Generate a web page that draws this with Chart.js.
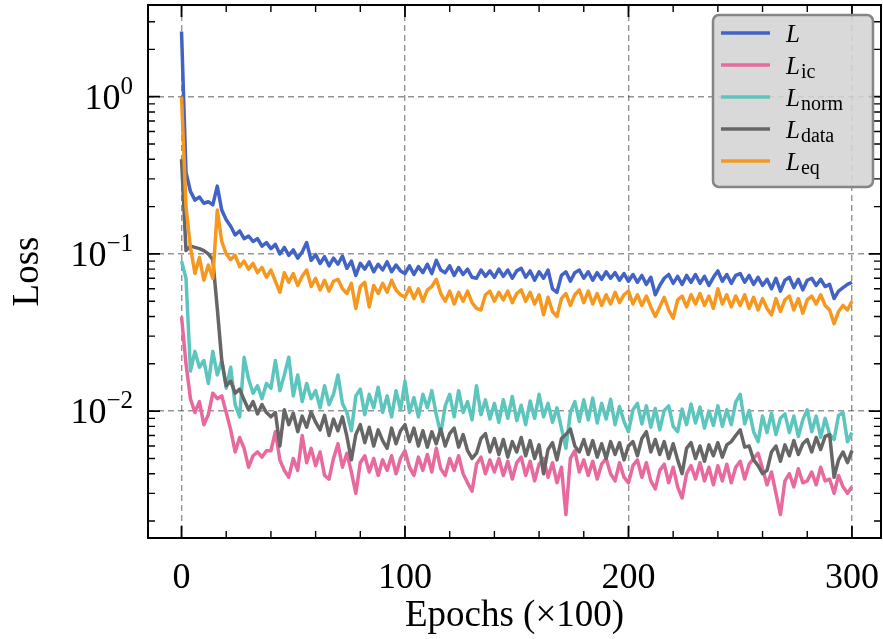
<!DOCTYPE html>
<html>
<head>
<meta charset="utf-8">
<script src="https://cdn.jsdelivr.net/npm/chart.js@4.4.1/dist/chart.umd.min.js"></script>
<style>
  html, body { margin: 0; padding: 0; background: #fff; }
  canvas { display: block; }
</style>
</head>
<body>
<canvas id="lossChart" width="883" height="639"></canvas>
<script>
// epochs (x100), one sample every 2
const epochs = [
  0, 2, 4, 6, 8, 10, 12, 14, 16, 18,
  20, 22, 24, 26, 28, 30, 32, 34, 36, 38,
  40, 42, 44, 46, 48, 50, 52, 54, 56, 58,
  60, 62, 64, 66, 68, 70, 72, 74, 76, 78,
  80, 82, 84, 86, 88, 90, 92, 94, 96, 98,
  100, 102, 104, 106, 108, 110, 112, 114, 116, 118,
  120, 122, 124, 126, 128, 130, 132, 134, 136, 138,
  140, 142, 144, 146, 148, 150, 152, 154, 156, 158,
  160, 162, 164, 166, 168, 170, 172, 174, 176, 178,
  180, 182, 184, 186, 188, 190, 192, 194, 196, 198,
  200, 202, 204, 206, 208, 210, 212, 214, 216, 218,
  220, 222, 224, 226, 228, 230, 232, 234, 236, 238,
  240, 242, 244, 246, 248, 250, 252, 254, 256, 258,
  260, 262, 264, 266, 268, 270, 272, 274, 276, 278,
  280, 282, 284, 286, 288, 290, 292, 294, 296, 298,
  300
];

const lossTotal = [
  2.6, 0.33, 0.25, 0.22, 0.23, 0.21, 0.215, 0.205, 0.27, 0.19,
  0.165, 0.15, 0.132, 0.14, 0.125, 0.13, 0.12, 0.125, 0.112, 0.118,
  0.108, 0.115, 0.1, 0.11, 0.098, 0.106, 0.094, 0.103, 0.118, 0.091,
  0.099, 0.087, 0.096, 0.084, 0.094, 0.086, 0.097, 0.081, 0.09, 0.073,
  0.087, 0.08, 0.089, 0.077, 0.086, 0.079, 0.089, 0.077, 0.085, 0.078,
  0.075, 0.084, 0.074, 0.083, 0.076, 0.086, 0.075, 0.091, 0.079, 0.076,
  0.084, 0.073, 0.082, 0.074, 0.08, 0.071, 0.07, 0.079, 0.072, 0.078,
  0.071, 0.08, 0.072, 0.079, 0.07, 0.078, 0.081, 0.071, 0.078, 0.068,
  0.077, 0.07, 0.079, 0.06, 0.057, 0.073, 0.077, 0.067, 0.076, 0.079,
  0.07, 0.077, 0.068, 0.076, 0.069, 0.077, 0.07, 0.076, 0.068, 0.075,
  0.067, 0.074, 0.066, 0.073, 0.064, 0.071, 0.055, 0.063, 0.07, 0.074,
  0.065, 0.072, 0.064, 0.073, 0.066, 0.074, 0.065, 0.072, 0.063, 0.071,
  0.078, 0.067, 0.074, 0.065, 0.073, 0.075, 0.066, 0.073, 0.064, 0.071,
  0.063, 0.069, 0.06, 0.07, 0.058, 0.068, 0.071, 0.061, 0.069, 0.059,
  0.068, 0.07, 0.063, 0.069, 0.062, 0.064, 0.052, 0.058, 0.061, 0.064,
  0.066
];

const lossIc = [
  0.04, 0.02, 0.012, 0.0098, 0.0115, 0.0082, 0.0095, 0.013, 0.012, 0.0125,
  0.0098, 0.0076, 0.0055, 0.0068, 0.0058, 0.0044, 0.0052, 0.0055, 0.0051, 0.0056,
  0.0056, 0.0074, 0.0049, 0.0042, 0.0038, 0.005, 0.0042, 0.007, 0.0047, 0.0058,
  0.0045, 0.0055, 0.0039, 0.0037, 0.005, 0.0062, 0.0044, 0.0054, 0.0041, 0.003,
  0.0047, 0.0052, 0.0041, 0.005, 0.0039, 0.0049, 0.0042, 0.0052, 0.004, 0.005,
  0.0056, 0.0044, 0.0039, 0.0051, 0.0042, 0.0053, 0.0041, 0.0058, 0.0043, 0.0039,
  0.005, 0.0042, 0.0052, 0.004, 0.0035, 0.0031, 0.0046, 0.0051, 0.004, 0.0049,
  0.0041, 0.005, 0.0039, 0.0048, 0.0037, 0.0047, 0.0051, 0.0039, 0.0048, 0.0036,
  0.0046, 0.005, 0.0038, 0.0047, 0.0035, 0.0044, 0.0022, 0.005, 0.0056, 0.0041,
  0.0049, 0.0039, 0.0048, 0.0037, 0.0046, 0.005, 0.004, 0.0036, 0.0047, 0.0038,
  0.0035, 0.0045, 0.0049, 0.0038, 0.0047, 0.0036, 0.0032, 0.0042, 0.0046, 0.0035,
  0.0044, 0.0033, 0.0028, 0.004, 0.0045, 0.0037, 0.0047, 0.0036, 0.0044, 0.0034,
  0.0045, 0.0036, 0.0046, 0.0035, 0.0044, 0.0048, 0.0037, 0.0046, 0.005, 0.0054,
  0.0043, 0.0034, 0.0041, 0.003, 0.0022, 0.0036, 0.004, 0.0033, 0.0043, 0.0035,
  0.0036, 0.0041, 0.0034, 0.0044, 0.0036, 0.0037, 0.003, 0.0039, 0.0033, 0.003,
  0.0033
];

const lossNorm = [
  0.09, 0.07, 0.018, 0.024, 0.019, 0.021, 0.015, 0.024, 0.017, 0.021,
  0.014, 0.019, 0.011, 0.0092, 0.022, 0.016, 0.013, 0.0145, 0.012, 0.015,
  0.014, 0.021, 0.0135, 0.017, 0.022, 0.0125, 0.017, 0.0115, 0.015, 0.012,
  0.0135, 0.0105, 0.0145, 0.011, 0.0128, 0.017, 0.0112, 0.0098, 0.0075, 0.0125,
  0.0138, 0.0095, 0.0128, 0.0105, 0.0142, 0.0098, 0.0125, 0.0092, 0.0135, 0.0102,
  0.0155, 0.0098, 0.0122, 0.0092, 0.0128, 0.0105, 0.0135, 0.0095, 0.0072, 0.0108,
  0.0128, 0.0092, 0.0135, 0.0098, 0.0115, 0.0088, 0.0145, 0.0095, 0.0118, 0.0089,
  0.0112, 0.0085, 0.0118, 0.009, 0.0124, 0.0087, 0.0109, 0.0082, 0.0116, 0.009,
  0.0128, 0.0092, 0.0112, 0.0085, 0.0105, 0.0078, 0.0058, 0.0098, 0.0115, 0.0086,
  0.0118, 0.0088, 0.0121, 0.0084, 0.0112, 0.0089, 0.0119, 0.0082, 0.0107, 0.0086,
  0.0074, 0.0102, 0.0112, 0.0083, 0.0108, 0.0079, 0.0104, 0.0076, 0.0101, 0.0108,
  0.008, 0.0074, 0.0103, 0.0082, 0.0111, 0.0084, 0.0106, 0.0078, 0.01, 0.0081,
  0.0108, 0.008, 0.0102, 0.0082, 0.0114, 0.0128, 0.0083, 0.0101, 0.0074, 0.0064,
  0.0093, 0.0073, 0.0097, 0.0071, 0.009, 0.0096, 0.0073, 0.0093, 0.0069, 0.0088,
  0.0102, 0.0074, 0.0093, 0.0068, 0.009, 0.0071, 0.0066, 0.0094, 0.0098, 0.0064,
  0.0073
];

const lossData = [
  0.4, 0.105, 0.112, 0.11, 0.108, 0.105, 0.1, 0.092, 0.045, 0.021,
  0.0145, 0.0155, 0.013, 0.0138, 0.0118, 0.0102, 0.0115, 0.0096, 0.011, 0.0098,
  0.0092, 0.0098, 0.006, 0.0102, 0.0082, 0.0097, 0.0074, 0.0093, 0.0079, 0.0099,
  0.0085, 0.0076, 0.0094, 0.007, 0.0089, 0.0075, 0.0092, 0.0069, 0.0049, 0.0071,
  0.0082, 0.0063, 0.0079, 0.006, 0.0076, 0.0065, 0.0058, 0.0078, 0.0062, 0.0075,
  0.0082, 0.0064, 0.0078, 0.006, 0.0075, 0.0059, 0.0074, 0.0062, 0.0077, 0.006,
  0.0072, 0.0078, 0.0059, 0.0071, 0.0056, 0.005, 0.0054, 0.0067, 0.0072, 0.0055,
  0.0067, 0.0053, 0.0066, 0.0051, 0.0064, 0.0055, 0.0068, 0.0052, 0.0065, 0.005,
  0.0061, 0.004, 0.0057, 0.0063, 0.0049, 0.0067, 0.0071, 0.0077, 0.006, 0.0055,
  0.0066, 0.0053, 0.0065, 0.0051, 0.0062, 0.005, 0.0064, 0.0053, 0.0063, 0.0049,
  0.006, 0.0064, 0.0052, 0.0067, 0.0074, 0.0055, 0.0066, 0.0053, 0.0064, 0.005,
  0.0062, 0.0049, 0.004, 0.0058, 0.0063, 0.005, 0.006, 0.0048, 0.0061, 0.0052,
  0.0063, 0.0051, 0.0061, 0.0064, 0.007, 0.0076, 0.0059, 0.006, 0.0049, 0.0045,
  0.004, 0.0042, 0.0055, 0.006, 0.0048, 0.0061, 0.0052, 0.0065, 0.0053, 0.0062,
  0.0066, 0.0055, 0.0068, 0.0057, 0.0069, 0.0071, 0.0038, 0.0049, 0.0055, 0.0047,
  0.0056
];

const lossEq = [
  1.0, 0.2, 0.11, 0.075, 0.095, 0.068, 0.085, 0.07, 0.19, 0.12,
  0.1, 0.092, 0.098, 0.083, 0.09, 0.08, 0.087, 0.076, 0.082, 0.071,
  0.079, 0.067, 0.057, 0.076, 0.066, 0.075, 0.063, 0.072, 0.079, 0.062,
  0.07, 0.059, 0.068, 0.058, 0.067, 0.069, 0.06, 0.056, 0.065, 0.045,
  0.062, 0.066, 0.046, 0.063, 0.056, 0.065, 0.057, 0.068, 0.059, 0.055,
  0.053, 0.061, 0.052, 0.06, 0.05, 0.059, 0.062, 0.069, 0.056, 0.05,
  0.058, 0.048, 0.057, 0.05, 0.058, 0.049, 0.045, 0.044, 0.055, 0.058,
  0.05, 0.057, 0.051, 0.058, 0.049, 0.056, 0.059, 0.05, 0.057, 0.048,
  0.055, 0.041, 0.053, 0.043, 0.04, 0.052, 0.056, 0.047, 0.055, 0.059,
  0.049, 0.058, 0.048, 0.056, 0.047, 0.055, 0.048, 0.057, 0.049, 0.055,
  0.058, 0.048, 0.055, 0.047, 0.054, 0.046, 0.04, 0.046, 0.053, 0.044,
  0.039, 0.051, 0.054, 0.046, 0.055, 0.048, 0.056, 0.047, 0.054, 0.045,
  0.06, 0.048, 0.055, 0.046, 0.054, 0.047, 0.055, 0.045, 0.053, 0.044,
  0.052, 0.045, 0.041, 0.052, 0.043, 0.051, 0.054, 0.044, 0.052, 0.042,
  0.051, 0.054, 0.048, 0.055, 0.047, 0.044, 0.036, 0.043, 0.047, 0.044,
  0.05
];

// legend: main symbol + subscript
const seriesNames = ["L", "L", "L", "L", "L"];
const seriesSubs = ["", "ic", "norm", "data", "eq"];
const seriesColors = ["#4263c6", "#e7699d", "#5cc5bd", "#666666", "#f6981f"];

const xTicks = [0, 100, 200, 300];
const xMinorTicks = [20, 40, 60, 80, 120, 140, 160, 180, 220, 240, 260, 280];
const yTicks = [0.01, 0.1, 1];
const yTickExps = ["\u22122", "\u22121", "0"];

const xLabel = "Epochs (\u00d7100)";
const yLabel = "Loss";

const serif = '"Liberation Serif", "DejaVu Serif", serif';

const seriesList = [lossTotal, lossIc, lossNorm, lossData, lossEq];

const datasets = seriesList.map((vals, i) => ({
  label: seriesNames[i] + seriesSubs[i],
  data: epochs.map((e, j) => ({ x: e, y: vals[j] })),
  borderColor: seriesColors[i],
  backgroundColor: seriesColors[i],
  borderWidth: 3.5,
  pointRadius: 0,
  tension: 0,
  fill: false,
  borderJoinStyle: "round",
  order: -i
}));

const decorations = {
  id: "decorations",
  afterDraw(chart) {
    const ctx = chart.ctx;
    const a = chart.chartArea;
    const xs = chart.scales.x;
    const ys = chart.scales.y;
    ctx.save();

    // inward ticks on all four sides
    ctx.strokeStyle = "#000";
    ctx.lineCap = "butt";
    function xTick(v, len, w) {
      const px = xs.getPixelForValue(v);
      ctx.lineWidth = w;
      ctx.beginPath();
      ctx.moveTo(px, a.bottom); ctx.lineTo(px, a.bottom - len);
      ctx.moveTo(px, a.top); ctx.lineTo(px, a.top + len);
      ctx.stroke();
    }
    function yTick(v, len, w) {
      const py = ys.getPixelForValue(v);
      ctx.lineWidth = w;
      ctx.beginPath();
      ctx.moveTo(a.left, py); ctx.lineTo(a.left + len, py);
      ctx.moveTo(a.right, py); ctx.lineTo(a.right - len, py);
      ctx.stroke();
    }
    xTicks.forEach(v => xTick(v, 12, 1.8));
    xMinorTicks.forEach(v => xTick(v, 7, 1.4));
    yTicks.forEach(v => yTick(v, 12, 1.8));
    for (let d = -3; d <= 0; d++) {
      for (let m = 2; m <= 9; m++) {
        const v = m * Math.pow(10, d);
        if (v > ys.min && v < ys.max) yTick(v, 7, 1.4);
      }
    }

    // frame
    ctx.lineWidth = 2;
    ctx.strokeRect(a.left, a.top, a.right - a.left, a.bottom - a.top);

    // tick labels
    ctx.fillStyle = "#000";
    ctx.textBaseline = "alphabetic";
    ctx.font = "36px " + serif;
    ctx.textAlign = "center";
    xTicks.forEach(v => {
      ctx.fillText(String(v), xs.getPixelForValue(v), 588);
    });
    ctx.textAlign = "left";
    yTicks.forEach((v, i) => {
      const py = ys.getPixelForValue(v);
      ctx.font = "25px " + serif;
      const ew = ctx.measureText(yTickExps[i]).width;
      ctx.font = "36px " + serif;
      const bw = ctx.measureText("10").width;
      const right = a.left - 15;
      ctx.fillText("10", right - ew - bw, py + 12);
      ctx.font = "25px " + serif;
      ctx.fillText(yTickExps[i], right - ew, py - 3);
    });

    // axis titles
    ctx.font = "37px " + serif;
    ctx.textAlign = "center";
    ctx.fillText(xLabel, (a.left + a.right) / 2, 626);
    ctx.save();
    ctx.translate(38, (a.top + a.bottom) / 2);
    ctx.rotate(-Math.PI / 2);
    ctx.fillText(yLabel, 0, 0);
    ctx.restore();

    // legend
    const bx = 713, by = 15, bw = 160, bh = 172;
    ctx.beginPath();
    ctx.roundRect(bx, by, bw, bh, 6);
    ctx.fillStyle = "rgba(212, 212, 212, 0.88)";
    ctx.fill();
    ctx.lineWidth = 2.5;
    ctx.strokeStyle = "#858585";
    ctx.stroke();
    chart.data.datasets.forEach((ds, i) => {
      const ly = 33 + i * 32;
      ctx.strokeStyle = ds.borderColor;
      ctx.lineWidth = 3.5;
      ctx.beginPath();
      ctx.moveTo(721, ly); ctx.lineTo(770, ly);
      ctx.stroke();
      ctx.fillStyle = "#000";
      ctx.textAlign = "left";
      ctx.font = "italic 25px " + serif;
      ctx.fillText(seriesNames[i], 786, ly + 9);
      const lw = ctx.measureText(seriesNames[i]).width;
      if (seriesSubs[i]) {
        ctx.font = "20px " + serif;
        ctx.fillText(seriesSubs[i], 786 + lw + 1, ly + 13);
      }
    });

    ctx.restore();
  }
};

new Chart(document.getElementById("lossChart").getContext("2d"), {
  type: "line",
  data: { datasets: datasets },
  options: {
    responsive: false,
    animation: false,
    layout: { padding: { top: 5, right: 2, left: 0, bottom: 0 } },
    plugins: { legend: { display: false }, tooltip: { enabled: false } },
    scales: {
      x: {
        type: "linear",
        min: -15,
        max: 313,
        afterFit: (s) => { s.height = 101; },
        afterBuildTicks: (s) => { s.ticks = xTicks.map(v => ({ value: v })); },
        ticks: { display: false },
        grid: { color: "rgba(0,0,0,0.42)", lineWidth: 1.4, drawTicks: false },
        border: { display: false, dash: [6, 4] }
      },
      y: {
        type: "logarithmic",
        min: 0.00156,
        max: 3.83,
        afterFit: (s) => { s.width = 148; },
        afterBuildTicks: (s) => { s.ticks = yTicks.map(v => ({ value: v })); },
        ticks: { display: false },
        grid: { color: "rgba(0,0,0,0.42)", lineWidth: 1.4, drawTicks: false },
        border: { display: false, dash: [6, 4] }
      }
    }
  },
  plugins: [decorations]
});
</script>
</body>
</html>
